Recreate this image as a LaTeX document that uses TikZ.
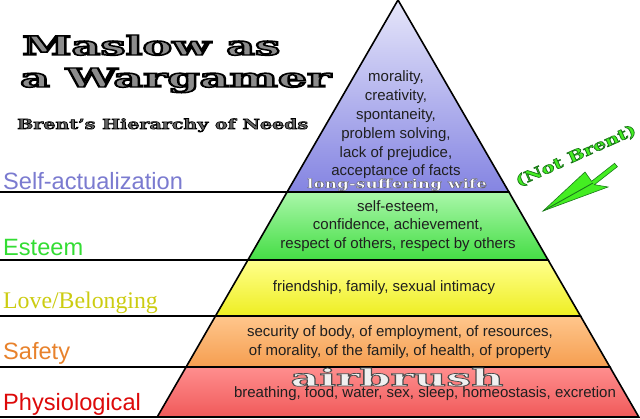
\documentclass[tikz,border=0pt]{standalone}
\usepackage{graphicx}
\usepackage{fontspec}
\setmainfont{Liberation Sans}
\newfontfamily\serifont{Liberation Serif}
\newfontfamily\widefont{DejaVu Serif}
\definecolor{lblblue}{HTML}{7B7BD0}
\definecolor{lblgreen}{HTML}{33DD33}
\definecolor{lblyellow}{HTML}{CCCC11}
\definecolor{lblorange}{HTML}{E8822C}
\definecolor{lblred}{HTML}{DD0A0A}
\definecolor{arrgreen}{HTML}{44EE22}
\definecolor{darkgr}{HTML}{1A7A1A}
\definecolor{purtop}{HTML}{E6E6FA}
\definecolor{purbot}{HTML}{8484E2}
\definecolor{grntop}{HTML}{AAF7AA}
\definecolor{grnbot}{HTML}{44DD44}
\definecolor{yeltop}{HTML}{FFFF8C}
\definecolor{yelbot}{HTML}{EEEE22}
\definecolor{ortop}{HTML}{FFC68C}
\definecolor{orbot}{HTML}{F59E50}
\definecolor{redtop}{HTML}{FF8E8E}
\definecolor{redbot}{HTML}{F05A5A}
% stroked-and-filled text: #1 stroke rgb, #2 stroke width, #3 text
\newcommand\strktext[3]{\special{pdf:literal direct #1 RG #2 w 2 Tr}#3\special{pdf:literal direct 0 Tr}}
\begin{document}
\begin{tikzpicture}[x=1pt,y=-1pt,
  layer/.style={draw=black,line width=1.6pt,line join=miter},
  sep/.style={draw=black,line width=1.6pt},
  body/.style={font=\fontsize{15}{18.8}\selectfont,align=center,inner sep=0pt,text=black!88},
  lbl/.style={font=\fontsize{23.6}{28}\selectfont,anchor=base west,inner sep=0pt},
  wide/.style={inner sep=0pt,anchor=base west,text=black!45}]
\useasboundingbox (0,0) rectangle (640,419);
\fill[white] (0,0) rectangle (640,419);
% pyramid corners
\coordinate (apex) at (398,0);
\coordinate (l1) at (287.1,192); \coordinate (r1) at (508.9,192);
\coordinate (l2) at (247.9,260); \coordinate (r2) at (548.1,260);
\coordinate (l3) at (215.5,316); \coordinate (r3) at (580.5,316);
\coordinate (l4) at (186.1,367); \coordinate (r4) at (609.9,367);
\coordinate (l5) at (157.2,417); \coordinate (r5) at (638.8,417);
\coordinate (s1) at (0,192); \coordinate (s2) at (0,260);
\coordinate (s3) at (0,316); \coordinate (s4) at (0,367);
\coordinate (s5) at (0,417);
% layers
\path[layer,top color=purtop,bottom color=purbot] (apex) -- (r1) -- (l1) -- cycle;
\path[layer,top color=grntop,bottom color=grnbot] (l1) -- (r1) -- (r2) -- (l2) -- cycle;
\path[layer,top color=yeltop,bottom color=yelbot] (l2) -- (r2) -- (r3) -- (l3) -- cycle;
\path[layer,top color=ortop,bottom color=orbot] (l3) -- (r3) -- (r4) -- (l4) -- cycle;
\path[layer,top color=redtop,bottom color=redbot] (l4) -- (r4) -- (r5) -- (l5) -- cycle;
% separator lines
\draw[sep] (s1) -- (l1);
\draw[sep] (s2) -- (l2);
\draw[sep] (s3) -- (l3);
\draw[sep] (s4) -- (l4);
\draw[sep] (s5) -- (r5);
% left labels
\node[lbl,text=lblblue] (lab1) at (3,190) {Self-actualization};
\node[lbl,text=lblgreen] (lab2) at (3,256) {Esteem};
\node[lbl,text=lblyellow,font=\fontsize{23.8}{28}\selectfont\serifont] (lab3) at (3,309) {Love/Belonging};
\node[lbl,text=lblorange] (lab4) at (3,360) {Safety};
\node[lbl,text=lblred] (lab5) at (3,410) {Physiological};
% body texts
\node[body] (t1) at (396,125) {morality,\\creativity,\\spontaneity,\\problem solving,\\lack of prejudice,\\acceptance of facts};
\node[body] (t2) at (398,226) {self-esteem,\\confidence, achievement,\\respect of others, respect by others};
\node[body] (t3) at (384,288) {friendship, family, sexual intimacy};
\node[body] (t4) at (400,342.5) {security of body, of employment, of resources,\\of morality, of the family, of health, of property};
% title
\node[wide] (ti1) at (22,55) {\resizebox{258pt}{20pt}{\widefont\bfseries\strktext{0 0 0}{0.55}{Maslow as}}};
\node[wide] (ti2) at (20,87) {\resizebox{311pt}{19pt}{\widefont\bfseries\strktext{0 0 0}{0.55}{a Wargamer}}};
\node[wide,text=black!60] (ti3) at (17,129) {\resizebox{291pt}{10.5pt}{\widefont\bfseries\strktext{0 0 0}{0.4}{Brent’s Hierarchy of Needs}}};
% long-suffering wife (outlined white)
\node[inner sep=0pt,anchor=base,text=white] (lsw) at (397,188) {\resizebox{180pt}{9.5pt}{\widefont\bfseries\strktext{0.4 0.4 0.45}{0.35}{long-suffering wife}}};
% airbrush (outlined white)
\node[inner sep=0pt,anchor=base,text=white!94!black] (air) at (397,386) {\resizebox{213pt}{18pt}{\widefont\bfseries\strktext{0.3 0.3 0.3}{0.3}{airbrush}}};
\node[body] (t5) at (425,394) {breathing, food, water, sex, sleep, homeostasis, excretion};
% (Not Brent)
\node[inner sep=0pt,rotate=24,text=arrgreen] (nb) at (576,156) {\resizebox{130pt}{11.5pt}{\widefont\bfseries\strktext{0.1 0.45 0.1}{0.4}{(Not Brent)}}};
% arrow
\coordinate (atip) at (543,211);
\coordinate (anotch) at (593,183);
\path[fill=arrgreen,draw=darkgr,line width=0.6pt,line join=miter]
  (atip) -- (585,172) -- (591.6,181.3) -- (614.6,163.3) -- (617.4,166.7) -- (594.4,184.7) -- (608,187) -- cycle;
\draw[darkgr,line width=0.9pt] (atip) -- (anotch);
\end{tikzpicture}
\end{document}
